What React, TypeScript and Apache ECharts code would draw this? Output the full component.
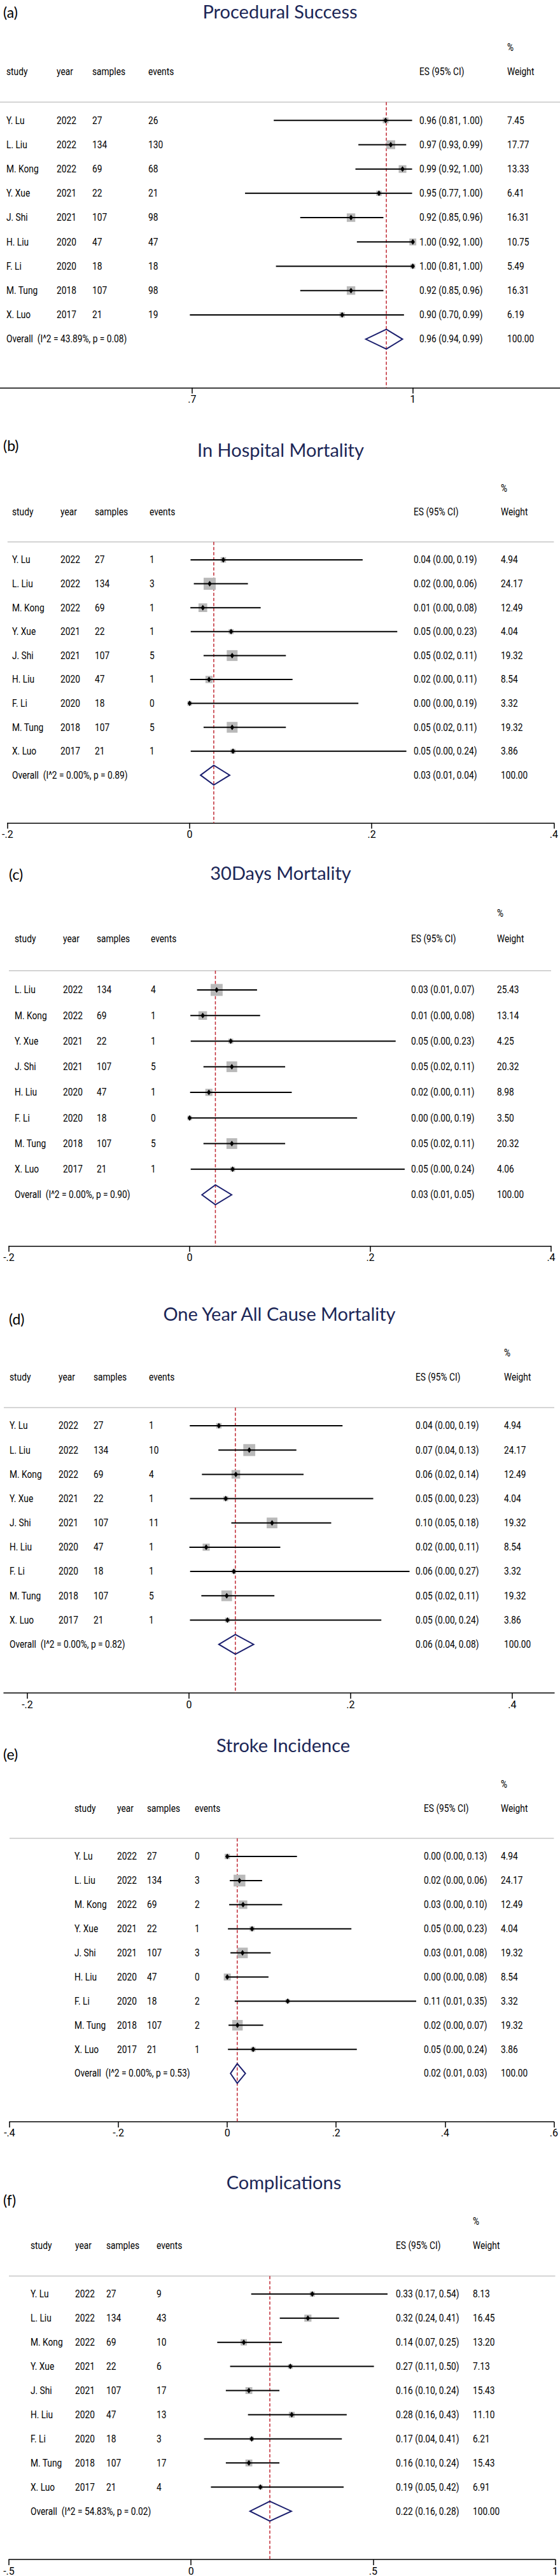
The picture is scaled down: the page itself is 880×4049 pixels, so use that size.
import React, { useEffect, useRef } from "react";
import * as echarts from "echarts";

// ---------- data ----------
const studies9 = ["Y. Lu", "L. Liu", "M. Kong", "Y. Xue", "J. Shi", "H. Liu", "F. Li", "M. Tung", "X. Luo"];
const years9 = [2022, 2022, 2022, 2021, 2021, 2020, 2020, 2018, 2017];
const samples9 = [27, 134, 69, 22, 107, 47, 18, 107, 21];

const studies8 = ["L. Liu", "M. Kong", "Y. Xue", "J. Shi", "H. Liu", "F. Li", "M. Tung", "X. Luo"];
const years8 = [2022, 2022, 2021, 2021, 2020, 2020, 2018, 2017];
const samples8 = [134, 69, 22, 107, 47, 18, 107, 21];

const titles = ["Procedural Success", "In Hospital Mortality", "30Days Mortality", "One Year All Cause Mortality", "Stroke Incidence", "Complications"];
const letters = ["(a)", "(b)", "(c)", "(d)", "(e)", "(f)"];

// (a) Procedural success
const successEvents = [26, 130, 68, 21, 98, 47, 18, 98, 19];
const successES = [0.963, 0.970, 0.986, 0.954, 0.916, 1.0, 1.0, 0.916, 0.904];
const successLo = [0.811, 0.926, 0.922, 0.772, 0.847, 0.924, 0.814, 0.847, 0.697];
const successHi = [0.999, 0.991, 0.999, 0.999, 0.960, 1.0, 1.0, 0.960, 0.988];
const successWeight = [7.45, 17.77, 13.33, 6.41, 16.31, 10.75, 5.49, 16.31, 6.19];
const successOverall = [0.964, 0.936, 0.986];
const successHet = ["43.89%", "0.08"];

// (b) In hospital mortality
const hospEvents = [1, 3, 1, 1, 5, 1, 0, 5, 1];
const hospES = [0.037, 0.022, 0.0145, 0.0455, 0.0467, 0.0213, 0, 0.0467, 0.0476];
const hospLo = [0.001, 0.0046, 0.0008, 0.0012, 0.0153, 0.0005, 0, 0.0153, 0.0012];
const hospHi = [0.190, 0.064, 0.078, 0.228, 0.1057, 0.113, 0.1853, 0.1057, 0.238];
const hospWeight = [4.94, 24.17, 12.49, 4.04, 19.32, 8.54, 3.32, 19.32, 3.86];
const hospOverall = [0.0265, 0.012, 0.044];
const hospHet = ["0.00%", "0.89"];

// (c) 30 days mortality
const d30Events = [4, 1, 1, 5, 1, 0, 5, 1];
const d30ES = [0.0299, 0.0145, 0.0455, 0.0467, 0.0213, 0, 0.0467, 0.0476];
const d30Lo = [0.0082, 0.0008, 0.0012, 0.0153, 0.0005, 0, 0.0153, 0.0012];
const d30Hi = [0.0746, 0.078, 0.228, 0.1057, 0.113, 0.1853, 0.1057, 0.238];
const d30Weight = [25.43, 13.14, 4.25, 20.32, 8.98, 3.50, 20.32, 4.06];
const d30Overall = [0.0285, 0.0136, 0.0465];
const d30Het = ["0.00%", "0.90"];

// (d) One year all cause mortality
const yearEvents = [1, 10, 4, 1, 11, 1, 1, 5, 1];
const yearES = [0.037, 0.0746, 0.058, 0.0455, 0.1028, 0.0213, 0.0556, 0.0467, 0.0476];
const yearLo = [0.001, 0.0364, 0.016, 0.0012, 0.0524, 0.0005, 0.0014, 0.0153, 0.0012];
const yearHi = [0.190, 0.1329, 0.1418, 0.228, 0.176, 0.113, 0.2729, 0.1057, 0.238];
const yearWeight = [4.94, 24.17, 12.49, 4.04, 19.32, 8.54, 3.32, 19.32, 3.86];
const yearOverall = [0.0574, 0.037, 0.080];
const yearHet = ["0.00%", "0.82"];

// (e) Stroke incidence
const strokeEvents = [0, 3, 2, 1, 3, 0, 2, 2, 1];
const strokeES = [0, 0.0224, 0.029, 0.0455, 0.028, 0, 0.111, 0.0187, 0.0476];
const strokeLo = [0, 0.0046, 0.0035, 0.0012, 0.0058, 0, 0.0137, 0.0023, 0.0012];
const strokeHi = [0.128, 0.064, 0.1008, 0.228, 0.0797, 0.0757, 0.347, 0.066, 0.238];
const strokeWeight = [4.94, 24.17, 12.49, 4.04, 19.32, 8.54, 3.32, 19.32, 3.86];
const strokeOverall = [0.0183, 0.0059, 0.0333];
const strokeHet = ["0.00%", "0.53"];

// (f) Complications
const compEvents = [9, 43, 10, 6, 17, 13, 3, 17, 4];
const compES = [0.333, 0.3209, 0.1449, 0.2727, 0.1589, 0.2766, 0.1667, 0.1589, 0.1905];
const compLo = [0.1652, 0.2437, 0.072, 0.1073, 0.0956, 0.1564, 0.0358, 0.0956, 0.0546];
const compHi = [0.5396, 0.4064, 0.2497, 0.5022, 0.2427, 0.4275, 0.4142, 0.2427, 0.4191];
const compWeight = [8.13, 16.45, 13.20, 7.13, 15.43, 11.10, 6.21, 15.43, 6.91];
const compOverall = [0.2164, 0.162, 0.2755];
const compHet = ["54.83%", "0.02"];

// axis ticks per panel
const ticksA = [0.7, 1];
const ticksB = [-0.2, 0, 0.2, 0.4];
const ticksC = [-0.2, 0, 0.2, 0.4];
const ticksD = [-0.2, 0, 0.2, 0.4];
const ticksE = [-0.4, -0.2, 0, 0.2, 0.4, 0.6];
const ticksF = [-0.5, 0, 0.5, 1];

const panels = [
  { studies: studies9, years: years9, samples: samples9, events: successEvents, es: successES, lo: successLo, hi: successHi, weight: successWeight, overall: successOverall, het: successHet, ticks: ticksA },
  { studies: studies9, years: years9, samples: samples9, events: hospEvents, es: hospES, lo: hospLo, hi: hospHi, weight: hospWeight, overall: hospOverall, het: hospHet, ticks: ticksB },
  { studies: studies8, years: years8, samples: samples8, events: d30Events, es: d30ES, lo: d30Lo, hi: d30Hi, weight: d30Weight, overall: d30Overall, het: d30Het, ticks: ticksC },
  { studies: studies9, years: years9, samples: samples9, events: yearEvents, es: yearES, lo: yearLo, hi: yearHi, weight: yearWeight, overall: yearOverall, het: yearHet, ticks: ticksD },
  { studies: studies9, years: years9, samples: samples9, events: strokeEvents, es: strokeES, lo: strokeLo, hi: strokeHi, weight: strokeWeight, overall: strokeOverall, het: strokeHet, ticks: ticksE },
  { studies: studies9, years: years9, samples: samples9, events: compEvents, es: compES, lo: compLo, hi: compHi, weight: compWeight, overall: compOverall, het: compHet, ticks: ticksF },
];

// ---------- layout (positions / sizes) ----------
const layout = [
  { top: 160.6, bottom: 609.5, left: 0, right: 0, xMin: 0.439, xMax: 1.2, cols: [10, 89, 145, 233, 659, 797], box: 3.3, titleX: 440, titleY: 17, letterX: 5, letterY: 19 },
  { top: 851.8, bottom: 1293.6, left: 10, right: 7, xMin: -0.2, xMax: 0.4, cols: [19, 95, 149, 235, 650, 787], box: 3.86, titleX: 441, titleY: 706, letterX: 5, letterY: 700 },
  { top: 1525.8, bottom: 1958.5, left: 14, right: 14, xMin: -0.2, xMax: 0.4, cols: [23, 99, 152, 237, 646, 781], box: 3.73, titleX: 441, titleY: 1371, letterX: 14, letterY: 1374 },
  { top: 2212.4, bottom: 2661, left: 6, right: 9, xMin: -0.2291, xMax: 0.452, cols: [15, 92, 147, 234, 653, 792], box: 3.82, titleX: 439, titleY: 2064, letterX: 14, letterY: 2073 },
  { top: 2889.6, bottom: 3334.9, left: 15, right: 7, xMin: -0.4, xMax: 0.6, cols: [117, 184, 231, 306, 666, 787], box: 3.76, titleX: 445, titleY: 2742, letterX: 5, letterY: 2757 },
  { top: 3577.4, bottom: 4025, left: 14, right: 3, xMin: -0.5, xMax: 1, cols: [48, 118, 167, 246, 622, 743], box: 2.75, titleX: 446, titleY: 3429, letterX: 5, letterY: 3458 },
];

const W = 880;
const H = 4049;
const RED = "#bf2530";
const NAVY = "#1b1f6e";
const TITLE_COLOR = "#1c2757";
const BOX = "#b9b9b9";

function fontAvailable(name: string): boolean {
  try {
    const ctx = document.createElement("canvas").getContext("2d");
    if (!ctx) return false;
    const s = "mmmmmmmmmmwwwwwlli0123456789";
    ctx.font = "40px monospace";
    const a = ctx.measureText(s).width;
    ctx.font = `40px ${name}, monospace`;
    const b = ctx.measureText(s).width;
    return Math.abs(a - b) > 0.5;
  } catch (e) {
    return false;
  }
}

function stataLabel(v: number): string {
  const r = Math.round(v * 10) / 10;
  let s = String(r);
  s = s.replace(/^0\./, ".").replace(/^-0\./, "-.");
  return s;
}

export default function App() {
  const ref = useRef<HTMLDivElement>(null);

  useEffect(() => {
    document.body.style.margin = "0";
    if (!ref.current) return;
    const narrow = fontAvailable("'Liberation Sans Narrow'");
    const ff = narrow ? "'Liberation Sans Narrow', sans-serif" : "Roboto, sans-serif";
    const fs = narrow ? 17 : 16;
    const sx = narrow ? 1 : 0.86;

    const chart = echarts.init(ref.current, undefined, { renderer: "svg" });

    const grids: any[] = [];
    const xAxes: any[] = [];
    const yAxes: any[] = [];
    const series: any[] = [];
    const graphics: any[] = [];

    const txt = (x: number, y: number, s: string, align = "left") => ({
      type: "text",
      x,
      y,
      scaleX: sx,
      style: { text: s, fill: "#000", fontSize: fs, fontFamily: ff, align, verticalAlign: "middle" },
    });

    panels.forEach((p, i) => {
      const L = layout[i];
      const N = p.studies.length;
      grids.push({ left: L.left, right: L.right, top: L.top, height: L.bottom - L.top, containLabel: false });
      xAxes.push({
        gridIndex: i,
        type: "value",
        min: L.xMin,
        max: L.xMax,
        position: "bottom",
        axisLine: { show: true, onZero: false, lineStyle: { color: "#000", width: 1.5 } },
        axisTick: { show: true, customValues: p.ticks, length: 9, lineStyle: { color: "#000", width: 1.5 } },
        axisLabel: { show: true, customValues: p.ticks, formatter: (v: number) => stataLabel(v), margin: 10, color: "#000", fontSize: fs, fontFamily: ff },
        splitLine: { show: false },
      });
      yAxes.push({ gridIndex: i, type: "value", min: 0.25, max: N + 3, inverse: true, show: false });

      // frame: separator, headers, dashed line, overall diamond and texts
      series.push({
        type: "custom",
        xAxisIndex: i,
        yAxisIndex: i,
        z: 1,
        clip: false,
        silent: true,
        data: [[p.overall[0], N + 1, p.overall[1], p.overall[2]]],
        encode: { x: [0, 2, 3], y: 1 },
        renderItem: (params: any, api: any) => {
          const row = api.value(1);
          const c = api.coord([api.value(0), row]);
          const cl = api.coord([api.value(2), row]);
          const ch = api.coord([api.value(3), row]);
          const y = c[1];
          const sepL = api.coord([L.xMin, 0.25]);
          const sepR = api.coord([L.xMax, 0.25]);
          const bot = api.coord([api.value(0), N + 3]);
          const yh = api.coord([0, -1])[1];
          const yp = api.coord([0, -2])[1];
          const dh = 15.5;
          return {
            type: "group",
            children: [
              { type: "line", shape: { x1: sepL[0], y1: sepL[1], x2: sepR[0], y2: sepR[1] }, style: { stroke: "#c6c6c6", lineWidth: 1.5 } },
              { type: "line", shape: { x1: c[0], y1: sepL[1], x2: c[0], y2: bot[1] }, style: { stroke: RED, lineWidth: 1.5, lineDash: [5, 3] } },
              {
                type: "polygon",
                shape: { points: [[cl[0], y], [c[0], y - dh], [ch[0], y], [c[0], y + dh]] },
                style: { fill: "none", stroke: NAVY, lineWidth: 2 },
              },
              txt(L.cols[0], yh, "study"),
              txt(L.cols[1], yh, "year"),
              txt(L.cols[2], yh, "samples"),
              txt(L.cols[3], yh, "events"),
              txt(L.cols[4], yh, "ES (95% CI)"),
              txt(L.cols[5], yh, "Weight"),
              txt(L.cols[5], yp, "%"),
              txt(L.cols[0], y, `Overall\u00a0 (I^2 = ${p.het[0]}, p = ${p.het[1]})`),
              txt(L.cols[4], y, `${p.overall[0].toFixed(2)} (${p.overall[1].toFixed(2)}, ${p.overall[2].toFixed(2)})`),
              txt(L.cols[5], y, "100.00"),
            ],
          };
        },
      });

      // study rows
      series.push({
        type: "custom",
        xAxisIndex: i,
        yAxisIndex: i,
        z: 2,
        clip: false,
        silent: true,
        data: p.studies.map((_, k) => [p.es[k], k + 1, p.lo[k], p.hi[k], p.weight[k], k]),
        encode: { x: [0, 2, 3], y: 1 },
        renderItem: (params: any, api: any) => {
          const k = api.value(5);
          const row = api.value(1);
          const c = api.coord([api.value(0), row]);
          const cl = api.coord([api.value(2), row]);
          const ch = api.coord([api.value(3), row]);
          const y = c[1];
          const side = L.box * Math.sqrt(api.value(4));
          return {
            type: "group",
            children: [
              { type: "rect", shape: { x: c[0] - side / 2, y: y - side / 2, width: side, height: side }, style: { fill: BOX } },
              { type: "line", shape: { x1: cl[0], y1: y, x2: ch[0], y2: y }, style: { stroke: "#000", lineWidth: 2 } },
              {
                type: "polygon",
                shape: { points: [[c[0], y - 4.5], [c[0] + 3.2, y], [c[0], y + 4.5], [c[0] - 3.2, y]] },
                style: { fill: "#000" },
              },
              txt(L.cols[0], y, p.studies[k]),
              txt(L.cols[1], y, String(p.years[k])),
              txt(L.cols[2], y, String(p.samples[k])),
              txt(L.cols[3], y, String(p.events[k])),
              txt(L.cols[4], y, `${p.es[k].toFixed(2)} (${p.lo[k].toFixed(2)}, ${p.hi[k].toFixed(2)})`),
              txt(L.cols[5], y, p.weight[k].toFixed(2)),
            ],
          };
        },
      });

      graphics.push({
        type: "text",
        x: L.titleX,
        y: L.titleY,
        silent: true,
        style: { text: titles[i], fill: TITLE_COLOR, fontSize: 29, fontFamily: "Lato, 'Open Sans', sans-serif", align: "center", verticalAlign: "middle" },
      });
      graphics.push({
        type: "text",
        x: L.letterX,
        y: L.letterY,
        silent: true,
        style: { text: letters[i], fill: "#000", fontSize: 23, fontFamily: "Lato, 'Open Sans', sans-serif", align: "left", verticalAlign: "middle" },
      });
    });

    chart.setOption({
      animation: false,
      backgroundColor: "#fff",
      grid: grids,
      xAxis: xAxes,
      yAxis: yAxes,
      series,
      graphic: graphics,
    });

    return () => chart.dispose();
  }, []);

  return <div ref={ref} style={{ width: W, height: H }} />;
}
